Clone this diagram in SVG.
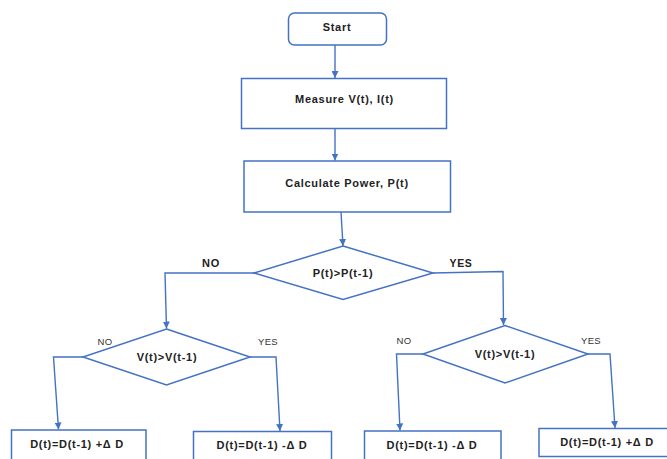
<svg xmlns="http://www.w3.org/2000/svg" width="667" height="459" viewBox="0 0 667 459">
<defs>
<style>
.box{fill:#fff;stroke:#4472C4;stroke-width:1.5}
.ln{fill:none;stroke:#4472C4;stroke-width:1.4}
.t{font-family:"Liberation Sans",Arial,sans-serif;font-weight:bold;font-size:11px;letter-spacing:0.7px;fill:#222;text-anchor:middle}
.s{font-family:"Liberation Sans",Arial,sans-serif;font-size:9.5px;letter-spacing:0.4px;fill:#333;text-anchor:middle}
</style>
<marker id="ah" viewBox="0 0 10 10" refX="10" refY="5" markerWidth="7" markerHeight="7" markerUnits="userSpaceOnUse" orient="auto">
<path d="M0,0 L10,5 L0,10 z" fill="#4472C4"/>
</marker>
</defs>
<rect width="667" height="459" fill="#fff"/>
<g id="connectors">
<path class="ln" d="M335,45 L335,78" marker-end="url(#ah)"/>
<path class="ln" d="M335,128.5 L335,160.5" marker-end="url(#ah)"/>
<path class="ln" d="M341,212 L343,246" marker-end="url(#ah)"/>
<path class="ln" d="M254,273 L165,273 L166.5,328.5" marker-end="url(#ah)"/>
<path class="ln" d="M433,273 L503,271.5 L503.5,325" marker-end="url(#ah)"/>
<path class="ln" d="M83,357 L53.5,357 L58.5,429.5" marker-end="url(#ah)"/>
<path class="ln" d="M250,357 L276,357 L280,431" marker-end="url(#ah)"/>
<path class="ln" d="M423,354 L396.5,354 L400,430.5" marker-end="url(#ah)"/>
<path class="ln" d="M588,354 L610,354 L615,428" marker-end="url(#ah)"/>
<text class="t" x="211" y="267">NO</text>
<text class="t" x="461" y="267" style="font-size:10.5px">YES</text>
<text class="s" x="105" y="344.5">NO</text>
<text class="s" x="268" y="344.5">YES</text>
<text class="s" x="404" y="344">NO</text>
<text class="s" x="591" y="344">YES</text>
</g>
<g id="start">
<rect class="box" x="288.5" y="13" width="98" height="32" rx="6"/>
<text class="t" x="337" y="31">Start</text>
</g>
<g id="measure">
<rect class="box" x="241.5" y="78.5" width="205" height="50"/>
<text class="t" x="344.5" y="103">Measure V(t), I(t)</text>
</g>
<g id="calculate">
<rect class="box" x="244" y="161" width="206.5" height="51"/>
<text class="t" x="347" y="186.5">Calculate Power, P(t)</text>
</g>
<g id="decision-p">
<polygon class="box" points="343,246 433,273 343,299.5 254,273"/>
<text class="t" x="343" y="277">P(t)&gt;P(t-1)</text>
</g>
<g id="decision-v-left">
<polygon class="box" points="166.5,329 250,357 166.5,385 83,357"/>
<text class="t" x="167" y="361">V(t)&gt;V(t-1)</text>
</g>
<g id="decision-v-right">
<polygon class="box" points="505,325.5 588,354 505,383 423,354"/>
<text class="t" x="505" y="358">V(t)&gt;V(t-1)</text>
</g>
<g id="out1">
<rect class="box" x="11.5" y="430" width="134.5" height="40"/>
<text class="t" x="77" y="448">D(t)=D(t-1) +Δ D</text>
</g>
<g id="out2">
<rect class="box" x="193.5" y="431.5" width="138" height="40"/>
<text class="t" x="262" y="449">D(t)=D(t-1) -Δ D</text>
</g>
<g id="out3">
<rect class="box" x="364.5" y="431" width="136.5" height="40"/>
<text class="t" x="432" y="449">D(t)=D(t-1) -Δ D</text>
</g>
<g id="out4">
<rect class="box" x="539" y="428.5" width="130" height="28"/>
<text class="t" x="607" y="445.5">D(t)=D(t-1) +Δ D</text>
</g>
</svg>
